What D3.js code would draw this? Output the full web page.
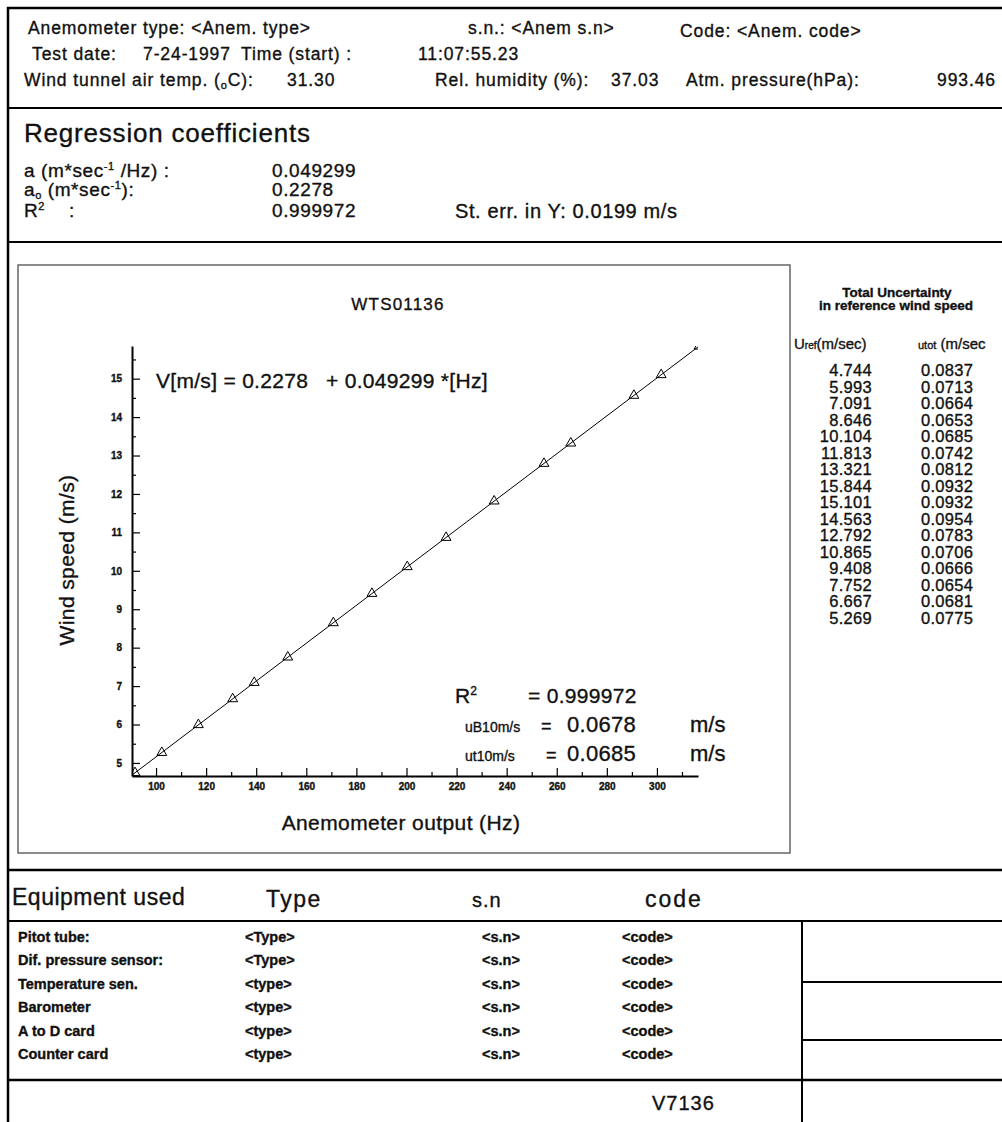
<!DOCTYPE html>
<html>
<head>
<meta charset="utf-8">
<script src="https://cdn.jsdelivr.net/npm/d3@7"></script>
<style>
  body { margin: 0; background: #fff; }
  svg text { font-family: "Liberation Sans", Arial, sans-serif; fill: #111; stroke: #111; stroke-width: 0.35px; }
</style>
</head>
<body>
<div id="sheet"></div>
<script>
// calibration data (table order)
var uref = [4.744, 5.993, 7.091, 8.646, 10.104, 11.813, 13.321, 15.844, 15.101, 14.563, 12.792, 10.865, 9.408, 7.752, 6.667, 5.269];
var utot = [0.0837, 0.0713, 0.0664, 0.0653, 0.0685, 0.0742, 0.0812, 0.0932, 0.0932, 0.0954, 0.0783, 0.0706, 0.0666, 0.0654, 0.0681, 0.0775];
// anemometer output, same order as uref
var freqHz = [91.6, 116.9, 139.2, 170.8, 200.3, 235.0, 265.6, 316.8, 301.7, 290.8, 254.9, 215.8, 186.2, 152.6, 130.6, 102.3];

var coefA = 0.049299, coefA0 = 0.2278;
var xTicks = [100, 120, 140, 160, 180, 200, 220, 240, 260, 280, 300];
var xMinor = [110, 130, 150, 170, 190, 210, 230, 250, 270, 290, 310];
var yTicks = [5, 6, 7, 8, 9, 10, 11, 12, 13, 14, 15];
var yMinor = [5.5, 6.5, 7.5, 8.5, 9.5, 10.5, 11.5, 12.5, 13.5, 14.5, 15.5];

var equipment = ["Pitot tube:", "Dif. pressure sensor:", "Temperature sen.", "Barometer", "A to D card", "Counter card"];
var equipType = ["<Type>", "<Type>", "<type>", "<type>", "<type>", "<type>"];

var svg = d3.select("#sheet").append("svg")
  .attr("width", 1002).attr("height", 1122);
svg.append("rect").attr("width", 1002).attr("height", 1122).attr("fill", "#fff");

function txt(x, y, s, size, opts) {
  opts = opts || {};
  var t = svg.append("text").attr("x", x).attr("y", y)
    .attr("font-size", size).text(s);
  if (opts.anchor) t.attr("text-anchor", opts.anchor);
  if (opts.bold) t.attr("font-weight", "bold");
  if (opts.ls) t.attr("letter-spacing", opts.ls);
  return t;
}
function hline(x1, x2, y, w) {
  svg.append("line").attr("x1", x1).attr("x2", x2).attr("y1", y).attr("y2", y)
    .attr("stroke", "#000").attr("stroke-width", w || 2);
}
function vline(x, y1, y2, w) {
  svg.append("line").attr("x1", x).attr("x2", x).attr("y1", y1).attr("y2", y2)
    .attr("stroke", "#000").attr("stroke-width", w || 2);
}

// frame
hline(7, 1002, 8, 2.5);
vline(8, 7, 1122, 2.5);
hline(8, 1002, 108);
hline(8, 1002, 242);
hline(8, 1002, 870, 2.5);
hline(8, 1002, 921);
hline(8, 1002, 1080, 2.5);
vline(802, 921, 1122);
hline(802, 1002, 982);
hline(802, 1002, 1040);

// header
var H = 17.5, LS = 0.9;
txt(28, 34, "Anemometer type:  <Anem. type>", H, {ls: LS});
txt(468, 34, "s.n.:  <Anem s.n>", H, {ls: LS});
txt(680, 37, "Code: <Anem. code>", H, {ls: LS});
txt(32, 60, "Test date:", H, {ls: LS});
txt(143, 60, "7-24-1997", H, {ls: LS});
txt(241, 60, "Time (start)  :", H, {ls: LS});
txt(418, 60, "11:07:55.23", H, {ls: LS});
var t3 = txt(24, 86, "", H, {ls: LS});
t3.append("tspan").text("Wind tunnel air temp. (");
t3.append("tspan").attr("font-size", 11).attr("dy", 3).text("o");
t3.append("tspan").attr("dy", -3).text("C):");
txt(287, 86, "31.30", H, {ls: LS});
txt(435, 86, "Rel. humidity (%):", H, {ls: LS});
txt(611, 86, "37.03", H, {ls: LS});
txt(686, 86, "Atm. pressure(hPa):", H, {ls: LS});
txt(996, 86, "993.46", H, {ls: LS, anchor: "end"});

// regression block
txt(24, 142, "Regression coefficients", 26, {ls: 0.8});
var ra = txt(24, 177, "", 19, {ls: 0.6});
ra.append("tspan").text("a (m*sec");
ra.append("tspan").attr("font-size", 11).attr("dy", -7).text("-1");
ra.append("tspan").attr("dy", 7).text(" /Hz)  :");
var rb = txt(24, 196, "", 19, {ls: 0.6});
rb.append("tspan").text("a");
rb.append("tspan").attr("font-size", 11).attr("dy", 3).text("o");
rb.append("tspan").attr("dy", -3).text(" (m*sec");
rb.append("tspan").attr("font-size", 11).attr("dy", -7).text("-1");
rb.append("tspan").attr("dy", 7).text("):");
var rc = txt(24, 217, "", 19, {ls: 0.6});
rc.append("tspan").text("R");
rc.append("tspan").attr("font-size", 11).attr("dy", -7).text("2");
rc.append("tspan").attr("dy", 7).attr("dx", 24).text(":");
txt(272, 177, String(coefA), 19, {ls: 0.6});
txt(272, 196, String(coefA0), 19, {ls: 0.6});
txt(272, 217, "0.999972", 19, {ls: 0.6});
txt(455, 218, "St. err. in Y: 0.0199  m/s", 20, {ls: 0.6});

// chart box
svg.append("rect").attr("x", 18).attr("y", 265).attr("width", 772).attr("height", 588)
  .attr("fill", "none").attr("stroke", "#666").attr("stroke-width", 1.5);

var x = d3.scaleLinear().domain([90.4, 316.4]).range([132, 698]);
var y = d3.scaleLinear().domain([4.66, 15.85]).range([776, 346]);

svg.append("clipPath").attr("id", "plotclip").append("rect")
  .attr("x", 132).attr("y", 346).attr("width", 566).attr("height", 430);

var gx = svg.append("g").attr("transform", "translate(0,776)")
  .call(d3.axisBottom(x).tickValues(xTicks).tickSize(-8).tickSizeOuter(0).tickPadding(7));
svg.append("g").attr("transform", "translate(0,776)")
  .call(d3.axisBottom(x).tickValues(xMinor).tickSize(-4).tickFormat(""))
  .select(".domain").remove();
var gy = svg.append("g").attr("transform", "translate(132,0)")
  .call(d3.axisLeft(y).tickValues(yTicks).tickSize(-8).tickSizeOuter(0).tickPadding(10));
svg.append("g").attr("transform", "translate(132,0)")
  .call(d3.axisLeft(y).tickValues(yMinor).tickSize(-4).tickFormat(""))
  .select(".domain").remove();
svg.selectAll(".tick text").attr("font-size", 10).attr("font-weight", "bold")
  .attr("font-family", "'Liberation Sans', Arial, sans-serif");
gx.select(".domain").attr("stroke-width", 2);
gy.select(".domain").attr("stroke-width", 2);
svg.selectAll(".tick line").attr("stroke-width", 1.2);

// regression line
var plot = svg.append("g").attr("clip-path", "url(#plotclip)");
plot.append("path")
  .datum(x.domain())
  .attr("d", d3.line().x(function(d) { return x(d); }).y(function(d) { return y(coefA0 + coefA * d); }))
  .attr("fill", "none").attr("stroke", "#000").attr("stroke-width", 1);

// measured points (open triangles)
plot.selectAll(".pt").data(d3.range(uref.length)).enter()
  .append("path").attr("class", "pt")
  .attr("transform", function(i) { return "translate(" + x(freqHz[i]) + "," + y(uref[i]) + ")"; })
  .attr("d", d3.symbol().type(d3.symbolTriangle).size(42))
  .attr("fill", "none").attr("stroke", "#000").attr("stroke-width", 1);

// chart texts
txt(398, 310, "WTS01136", 17, {anchor: "middle", ls: 1.2});
txt(156, 388, "V[m/s] = 0.2278", 21, {ls: 0.3});
txt(326, 388, "+ 0.049299  *[Hz]", 21, {ls: 0.3});

var s1 = txt(455, 703, "", 21);
s1.append("tspan").text("R");
s1.append("tspan").attr("font-size", 12).attr("dy", -8).text("2");
txt(528, 703, "=  0.999972", 21, {ls: 0.3});
var s2 = txt(465, 732, "", 14);
s2.append("tspan").text("uB10m/s");
txt(541, 732, "=", 18);
txt(567, 732, "0.0678", 22, {ls: 0.3});
txt(690, 732, "m/s", 22);
var s3 = txt(465, 761, "", 14);
s3.append("tspan").text("ut10m/s");
txt(546, 761, "=", 18);
txt(567, 761, "0.0685", 22, {ls: 0.3});
txt(690, 761, "m/s", 22);

txt(401, 830, "Anemometer output (Hz)", 21, {anchor: "middle", ls: 0.4});
svg.append("text").attr("transform", "translate(74,560) rotate(-90)")
  .attr("text-anchor", "middle").attr("font-size", 21).attr("letter-spacing", 0.4)
  .text("Wind speed (m/s)");

// uncertainty table
txt(897, 297, "Total Uncertainty", 13.5, {anchor: "middle", bold: true});
txt(896, 310, "in reference wind speed", 13.5, {anchor: "middle", bold: true});
var h1 = txt(794, 349, "", 15);
h1.append("tspan").text("U");
h1.append("tspan").attr("font-size", 10).text("ref");
h1.append("tspan").text("(m/sec)");
var h2 = txt(918, 349, "", 15);
h2.append("tspan").attr("font-size", 11).text("utot");
h2.append("tspan").text(" (m/sec");

var fmt3 = d3.format(".3f"), fmt4 = d3.format(".4f");
svg.selectAll(".uref").data(uref).enter().append("text")
  .attr("x", 872).attr("y", function(d, i) { return 376 + i * 16.5; })
  .attr("text-anchor", "end").attr("font-size", 16.5).attr("letter-spacing", 0.3)
  .text(function(d) { return fmt3(d); });
svg.selectAll(".utot").data(utot).enter().append("text")
  .attr("x", 921).attr("y", function(d, i) { return 376 + i * 16.5; })
  .attr("font-size", 16.5).attr("letter-spacing", 0.3)
  .text(function(d) { return fmt4(d); });

// equipment
txt(12, 905, "Equipment used", 23, {ls: 0.5});
txt(266, 907, "Type", 23, {ls: 1.5});
txt(472, 907, "s.n", 20, {ls: 1});
txt(645, 907, "code", 23, {ls: 2});
equipment.forEach(function(e, i) {
  var yy = 942 + i * 23.4;
  txt(18, yy, e, 14.5, {bold: true});
  txt(245, yy, equipType[i], 14.5, {bold: true});
  txt(482, yy, "<s.n>", 14.5, {bold: true});
  txt(622, yy, "<code>", 14.5, {bold: true});
});
txt(652, 1110, "V7136", 20, {ls: 1});
</script>
</body>
</html>
